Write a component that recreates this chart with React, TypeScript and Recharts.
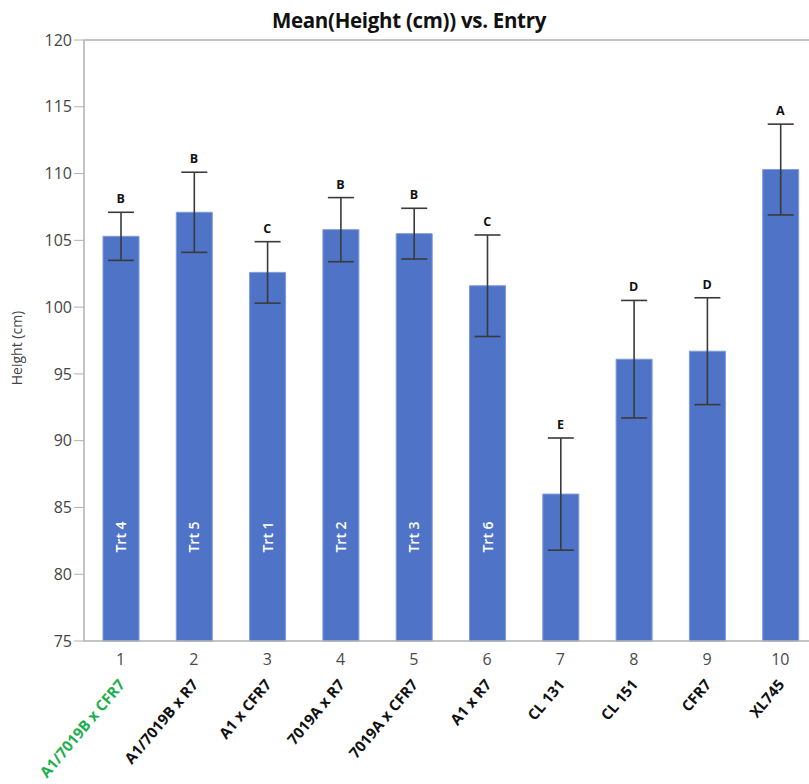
import React from "react";
import {
  ComposedChart,
  Bar,
  Line,
  XAxis,
  YAxis,
  ErrorBar,
  LabelList,
  ReferenceLine,
} from "recharts";

const entries = [1, 2, 3, 4, 5, 6, 7, 8, 9, 10];
const entryNames = [
  "A1/7019B x CFR7",
  "A1/7019B x R7",
  "A1 x CFR7",
  "7019A x R7",
  "7019A x CFR7",
  "A1 x R7",
  "CL 131",
  "CL 151",
  "CFR7",
  "XL745",
];
const meanHeight = [105.3, 107.1, 102.6, 105.8, 105.5, 101.6, 86.0, 96.1, 96.7, 110.3];
const errHeight = [1.8, 3.0, 2.3, 2.4, 1.9, 3.8, 4.2, 4.4, 4.0, 3.4];
const groupLetters = ["B", "B", "C", "B", "B", "C", "E", "D", "D", "A"];
const trtLabels = ["Trt 4", "Trt 5", "Trt 1", "Trt 2", "Trt 3", "Trt 6", "", "", "", ""];
const yTicks = [75, 80, 85, 90, 95, 100, 105, 110, 115, 120];

const data = entries.map((e, i) => ({
  entry: e,
  mean: meanHeight[i],
  err: errHeight[i],
  upper: meanHeight[i] + errHeight[i],
}));

const FONT = "'Open Sans', 'Noto Sans', sans-serif";

const XTick = (props: any) => {
  const { x, y, payload } = props;
  const idx = entries.indexOf(payload.value);
  return (
    <g>
      <text
        x={x}
        y={y + 16}
        textAnchor="middle"
        fontSize={16}
        fill="#4a4a4a"
        fontFamily={FONT}
      >
        {payload.value}
      </text>
      <text
        transform={`translate(${x + 5},${y + 36}) rotate(-50)`}
        textAnchor="end"
        fontSize={15}
        fontWeight="bold"
        fill={idx === 0 ? "#1DB04E" : "#111"}
        fontFamily={FONT}
      >
        {entryNames[idx]}
      </text>
    </g>
  );
};

const TrtLabel = (props: any) => {
  const { x, y, width, height, index } = props;
  const txt = trtLabels[index];
  if (!txt) return null;
  const cx = x + width / 2;
  const cy = y + height - 104;
  return (
    <text
      transform={`translate(${cx + 5},${cy}) rotate(-90)`}
      textAnchor="middle"
      fontSize={14}
      fontWeight={600}
      fill="#fff"
      fontFamily={FONT}
    >
      {txt}
    </text>
  );
};

const LetterLabel = (props: any) => {
  const { x, y, index } = props;
  return (
    <text
      x={x}
      y={y - 9}
      textAnchor="middle"
      fontSize={12.5}
      fontWeight="bold"
      fill="#111"
      fontFamily={FONT}
    >
      {groupLetters[index]}
    </text>
  );
};

export default function App() {
  return (
    <div
      style={{
        position: "absolute",
        left: 0,
        top: 0,
        width: 809,
        height: 784,
        overflow: "hidden",
        background: "#fff",
      }}
    >
      <div
        style={{
          position: "absolute",
          left: 0,
          top: 6,
          width: 818,
          textAlign: "center",
          fontFamily: FONT,
          fontWeight: "bold",
          fontSize: 20.5,
          color: "#111",
          letterSpacing: -0.3,
        }}
      >
        Mean(Height (cm)) vs. Entry
      </div>
      <ComposedChart
        width={830}
        height={784}
        data={data}
        margin={{ top: 40, right: 13, bottom: 0, left: 0 }}
      >
        <XAxis
          dataKey="entry"
          height={143}
          tick={<XTick />}
          tickLine={false}
          axisLine={{ stroke: "#b0b0b0", strokeWidth: 1.5 }}
          interval={0}
        />
        <YAxis
          domain={[75, 120]}
          ticks={yTicks}
          width={84}
          tickSize={10}
          tickMargin={2}
          tickLine={{ stroke: "#b0b0b0" }}
          axisLine={{ stroke: "#b0b0b0", strokeWidth: 1.5 }}
          tick={{ fontSize: 16, fill: "#444", fontFamily: FONT }}
          label={(p: any) => (
            <text
              transform="translate(22,348) rotate(-90)"
              textAnchor="middle"
              fontSize={14}
              fill="#444"
              fontFamily={FONT}
            >
              Height (cm)
            </text>
          )}
        />
        <ReferenceLine y={120} stroke="#b0b0b0" strokeWidth={1.5} />
        <Bar
          dataKey="mean"
          fill="#4F73C6"
          stroke="#7E9BDA"
          strokeWidth={1}
          barSize={36}
          isAnimationActive={false}
        >
          <ErrorBar
            dataKey="err"
            width={13}
            stroke="#3a3a3a"
            strokeWidth={1.6}
            isAnimationActive={false}
          />
          <LabelList dataKey="mean" content={<TrtLabel />} />
        </Bar>
        <Line
          dataKey="upper"
          stroke="none"
          dot={false}
          activeDot={false}
          isAnimationActive={false}
          label={<LetterLabel />}
        />
      </ComposedChart>
    </div>
  );
}
